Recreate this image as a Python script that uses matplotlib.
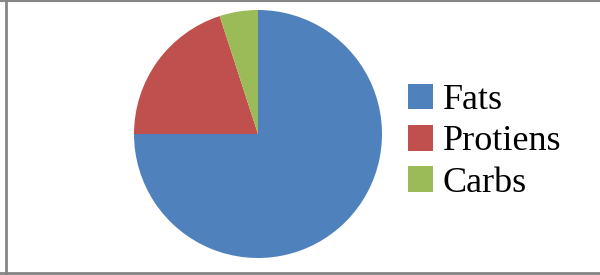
import matplotlib.pyplot as plt
from matplotlib.lines import Line2D

labels = ['Fats', 'Protiens', 'Carbs']
values = [75, 20, 5]
colors = ['#4F81BD', '#C0504D', '#9BBB59']

plt.rcParams['font.family'] = ['Liberation Serif', 'DejaVu Serif']

W, H = 600, 275
fig = plt.figure(figsize=(W / 100, H / 100), dpi=100)

# pie: center (258,134) px, radius 124 px
cx, cy, r = 258, 134, 124
ax = fig.add_axes([(cx - r) / W, (H - cy - r) / H, 2 * r / W, 2 * r / H])
wedges, _ = ax.pie(values, colors=colors, startangle=90, counterclock=False,
                   wedgeprops=dict(linewidth=0))
ax.set_xlim(-1, 1)
ax.set_ylim(-1, 1)
ax.set_aspect('equal')

# frame: top, left, bottom (no right edge visible)
gray = '#868686'
fig.add_artist(Line2D([0, 1], [1 - 1 / H, 1 - 1 / H], color=gray, lw=1.5,
                      transform=fig.transFigure))
fig.add_artist(Line2D([5.5 / W, 5.5 / W], [0, 1], color=gray, lw=2,
                      transform=fig.transFigure))
fig.add_artist(Line2D([0, 1], [2.5 / H, 2.5 / H], color=gray, lw=2,
                      transform=fig.transFigure))

leg = fig.legend(wedges, labels, loc='upper left',
                 bbox_to_anchor=(408 / W, 1 - 84 / H), frameon=False,
                 fontsize=26, handlelength=0.7, handleheight=0.7,
                 handletextpad=0.26, labelspacing=0.22, borderpad=0,
                 borderaxespad=0)

fig.savefig('out.png', dpi=100)
